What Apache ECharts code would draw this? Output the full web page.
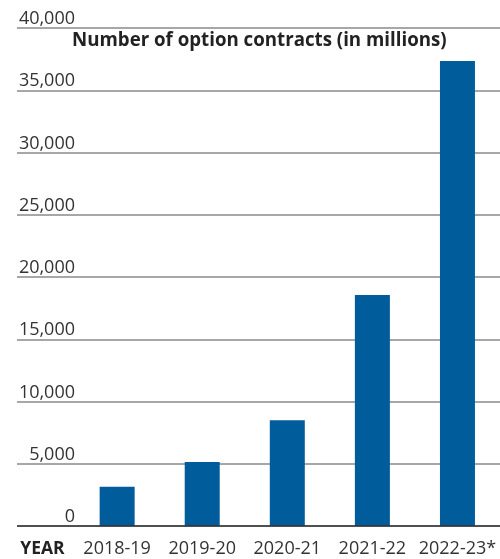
<!DOCTYPE html>
<html>
<head>
<meta charset="utf-8">
<script src="https://cdn.jsdelivr.net/npm/echarts@6/dist/echarts.min.js"></script>
<style>
  html, body { margin: 0; padding: 0; background: #fff; }
  #bar-chart { width: 500px; height: 559px; }
</style>
</head>
<body>
<div id="bar-chart"></div>
<script>
const years = ["2018-19", "2019-20", "2020-21", "2021-22", "2022-23*"];
const contracts = [3150, 5150, 8500, 18550, 37350];
const yTicks = [0, 5000, 10000, 15000, 20000, 25000, 30000, 35000, 40000];

const font = "Open Sans";
const myChart = echarts.init(document.getElementById("bar-chart"));

const option = {
  animation: false,
  title: {
    text: "Number of option contracts (in millions)",
    left: 72,
    top: 31,
    padding: 0,
    textStyle: {
      fontFamily: font,
      fontSize: 18.7,
      fontWeight: "bold",
      color: "#222",
    },
  },
  grid: [
    { left: 17, right: 0, top: 28, bottom: 33 },
    { left: 74.6, width: 429.5, top: 28, bottom: 33 },
  ],
  xAxis: [
    { type: "value", gridIndex: 0, show: false, min: 0, max: 1 },
    {
      type: "category",
      gridIndex: 1,
      data: years,
      axisLine: { show: false },
      axisTick: { show: false },
      axisLabel: {
        interval: 0,
        fontFamily: font,
        fontSize: 18,
        color: "#333",
        margin: 14,
      },
      name: "YEAR",
      nameLocation: "start",
      nameGap: 10,
      nameTextStyle: {
        fontFamily: font,
        fontSize: 17.5,
        fontWeight: "bold",
        color: "#222",
        verticalAlign: "top",
        padding: [14, 0, 0, 0],
      },
    },
  ],
  yAxis: [
    {
      type: "value",
      gridIndex: 0,
      min: yTicks[0],
      max: yTicks[yTicks.length - 1],
      interval: 5000,
      axisLine: { show: false },
      axisTick: { show: false },
      axisLabel: {
        inside: true,
        margin: 58,
        align: "right",
        verticalAlign: "bottom",
        lineHeight: 18,
        fontFamily: font,
        fontSize: 18,
        color: "#333",
        formatter: (v) => v.toLocaleString("en-US"),
      },
      splitLine: {
        lineStyle: { color: "#8a8a8a", width: 1.5 },
      },
    },
    {
      type: "value",
      gridIndex: 1,
      min: yTicks[0],
      max: yTicks[yTicks.length - 1],
      show: false,
    },
  ],
  series: [
    {
      type: "line",
      xAxisIndex: 0,
      yAxisIndex: 0,
      data: [],
      markLine: {
        silent: true,
        symbol: "none",
        label: { show: false },
        lineStyle: { color: "#333", width: 1.5, type: "solid" },
        data: [{ yAxis: 0 }],
      },
    },
    {
      type: "bar",
      xAxisIndex: 1,
      yAxisIndex: 1,
      data: contracts,
      barWidth: 35,
      itemStyle: { color: "#005c9b" },
    },
  ],
};

myChart.setOption(option);
</script>
</body>
</html>
